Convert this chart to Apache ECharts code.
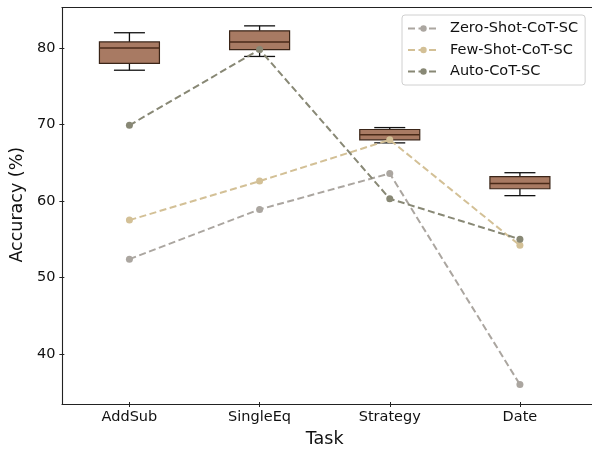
<!DOCTYPE html>
<html>
<head>
<meta charset="utf-8">
<script src="https://cdn.jsdelivr.net/npm/echarts@6/dist/echarts.min.js"></script>
<style>html,body{margin:0;padding:0;background:#fff}#c{width:592px;height:453px}</style>
</head>
<body>
<div id="c"></div>
<script>
const categories = ['AddSub', 'SingleEq', 'Strategy', 'Date'];
const yTicks = [40, 50, 60, 70, 80];
// box stats: [min, Q1, median, Q3, max]
const boxAddSub = [77.1, 78.0, 80.0, 80.8, 82.0];
const boxSingleEq = [78.9, 79.8, 80.8, 82.25, 82.9];
const boxStrategy = [67.6, 68.0, 68.65, 69.35, 69.6];
const boxDate = [60.7, 61.6, 62.3, 63.2, 63.7];
const zeroShot = [52.4, 58.9, 63.6, 36.0];
const fewShot = [57.5, 62.6, 68.0, 54.2];
const autoCoT = [69.9, 79.8, 60.3, 55.0];

const boxes = [boxAddSub, boxSingleEq, boxStrategy, boxDate];
const boxData = boxes.map((b, i) => [i].concat(b));

const chart = echarts.init(document.getElementById('c'));
const FONT = 'DejaVu Sans';
const boxW = 60, capW = 31;

function renderBox(params, api) {
  const x = api.value(0);
  const pMin = api.coord([x, api.value(1)]);
  const pQ1 = api.coord([x, api.value(2)]);
  const pMed = api.coord([x, api.value(3)]);
  const pQ3 = api.coord([x, api.value(4)]);
  const pMax = api.coord([x, api.value(5)]);
  const cx = pMed[0];
  const lineStyle = { stroke: '#111', lineWidth: 1.3, fill: null };
  return {
    type: 'group',
    children: [
      { type: 'line', shape: { x1: cx, y1: pMax[1], x2: cx, y2: pQ3[1] }, style: lineStyle },
      { type: 'line', shape: { x1: cx, y1: pQ1[1], x2: cx, y2: pMin[1] }, style: lineStyle },
      { type: 'line', shape: { x1: cx - capW / 2, y1: pMax[1], x2: cx + capW / 2, y2: pMax[1] }, style: lineStyle },
      { type: 'line', shape: { x1: cx - capW / 2, y1: pMin[1], x2: cx + capW / 2, y2: pMin[1] }, style: lineStyle },
      { type: 'rect', shape: { x: cx - boxW / 2, y: pQ3[1], width: boxW, height: pQ1[1] - pQ3[1] },
        style: { fill: '#a87a63', stroke: '#3a2518', lineWidth: 1.2 } },
      { type: 'line', shape: { x1: cx - boxW / 2, y1: pMed[1], x2: cx + boxW / 2, y2: pMed[1] },
        style: { stroke: '#4a2a18', lineWidth: 1.5 } }
    ]
  };
}

function lineSeries(name, data, color) {
  return {
    name: name, type: 'line', data: data, xAxisIndex: 0, yAxisIndex: 0,
    symbol: 'circle', symbolSize: 7, z: 3,
    itemStyle: { color: color },
    lineStyle: { color: color, width: 2, type: [7, 3.5] },
    emphasis: { disabled: true }
  };
}

const gridTop = 7.5, gridBottom = 48.7, gridLeft = 62;
const frameLine = { show: true, lineStyle: { color: '#222', width: 1.1 } };

chart.setOption({
  animation: false,
  backgroundColor: '#fff',
  textStyle: { fontFamily: FONT },
  grid: [
    { left: gridLeft, top: gridTop, width: 523, bottom: gridBottom, containLabel: false },
    { left: gridLeft, top: gridTop, right: 0, bottom: gridBottom, show: false }
  ],
  legend: {
    data: ['Zero-Shot-CoT-SC', 'Few-Shot-CoT-SC', 'Auto-CoT-SC'],
    orient: 'vertical', left: 402, top: 15,
    padding: [6, 7, 6, 5],
    itemWidth: 31, itemHeight: 8, itemGap: 6.5,
    borderColor: '#d0d0d0', borderWidth: 1, borderRadius: 3,
    backgroundColor: 'rgba(255,255,255,0.85)',
    textStyle: { fontFamily: FONT, fontSize: 14.5, color: '#111', padding: [0, 0, 0, 6] }
  },
  xAxis: [
    {
      type: 'category', data: categories, gridIndex: 0, boundaryGap: true,
      name: 'Task', nameLocation: 'middle', nameGap: 28,
      nameTextStyle: { fontFamily: FONT, fontSize: 17.5, color: '#111' },
      axisLine: { show: false },
      axisTick: { show: true, alignWithLabel: true, length: 5, lineStyle: { color: '#222', width: 1 } },
      axisLabel: { fontFamily: FONT, fontSize: 14.5, color: '#111', margin: 8 },
      splitLine: { show: false }
    },
    { type: 'value', gridIndex: 1, position: 'bottom', min: 0, max: 1, axisLine: frameLine,
      axisTick: { show: false }, axisLabel: { show: false }, splitLine: { show: false } },
    { type: 'value', gridIndex: 1, position: 'top', min: 0, max: 1, axisLine: frameLine,
      axisTick: { show: false }, axisLabel: { show: false }, splitLine: { show: false } }
  ],
  yAxis: [
    {
      type: 'value', gridIndex: 0, min: 33.72, max: 85.3,
      name: 'Accuracy (%)', nameLocation: 'middle', nameGap: 36,
      nameTextStyle: { fontFamily: FONT, fontSize: 17.5, color: '#111' },
      axisLine: { show: false },
      axisTick: { show: true, length: 5, customValues: yTicks, lineStyle: { color: '#222', width: 1 } },
      axisLabel: { fontFamily: FONT, fontSize: 14.5, color: '#111', margin: 9, customValues: yTicks },
      splitLine: { show: false }
    },
    { type: 'value', gridIndex: 1, position: 'left', min: 0, max: 1, axisLine: frameLine,
      axisTick: { show: false }, axisLabel: { show: false }, splitLine: { show: false } }
  ],
  series: [
    {
      type: 'custom', name: 'box', xAxisIndex: 0, yAxisIndex: 0,
      data: boxData, renderItem: renderBox, z: 2,
      encode: { x: 0, y: [1, 2, 3, 4, 5] }
    },
    lineSeries('Zero-Shot-CoT-SC', zeroShot, '#aba6a0'),
    lineSeries('Few-Shot-CoT-SC', fewShot, '#d3c096'),
    lineSeries('Auto-CoT-SC', autoCoT, '#888875')
  ]
});
</script>
</body>
</html>
